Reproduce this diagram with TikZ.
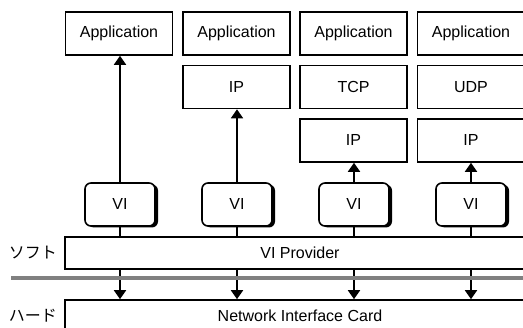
\documentclass[tikz,border=0pt]{standalone}
\usepackage{fontspec}
\setmainfont{Liberation Sans}
\newfontfamily\jpfont{Noto Sans CJK JP}
\usetikzlibrary{arrows.meta,shadows}

\begin{document}
\begin{tikzpicture}[x=1pt,y=-1pt,
    font=\fontsize{16}{19}\selectfont,
    layer/.style={draw,line width=1.6pt,minimum width=107pt,minimum height=43pt,inner sep=0pt},
    vibox/.style={draw,line width=1.6pt,fill=white,rounded corners=6pt,
        minimum width=70pt,minimum height=43pt,inner sep=0pt,
        drop shadow={shadow xshift=3pt,shadow yshift=-1.5pt,fill=black,opacity=1}},
    flow/.style={line width=1.8pt,-{Triangle[length=9pt,width=12pt]}}]
    \useasboundingbox (0,0) rectangle (523,328);

    % protocol stacks
    \node[layer] (app1) at (119,33.5)   {Application};
    \node[layer] (app2) at (236.5,33.5) {Application};
    \node[layer] (app3) at (353.5,33.5) {Application};
    \node[layer] (app4) at (471,33.5)   {Application};
    \node[layer] (ip2)  at (236.5,87)   {IP};
    \node[layer] (tcp3) at (353.5,87)   {TCP};
    \node[layer] (udp4) at (471,87)     {UDP};
    \node[layer] (ip3)  at (353.5,140.5) {IP};
    \node[layer] (ip4)  at (471,140.5)  {IP};

    % virtual interfaces
    \node[vibox] (vi1) at (120,204.5) {VI};
    \node[vibox] (vi2) at (237,204.5) {VI};
    \node[vibox] (vi3) at (354,204.5) {VI};
    \node[vibox] (vi4) at (471,204.5) {VI};

    \node[layer,minimum width=470pt,minimum height=32pt] (prov) at (300,253) {VI Provider};
    \node[layer,minimum width=470pt,minimum height=44pt] (nic)  at (300,322) {};
    \node at (300,316) {Network Interface Card};

    \node[font=\jpfont\fontsize{16}{19}\selectfont] (soft) at (33,253) {ソフト};
    \node[font=\jpfont\fontsize{16}{19}\selectfont] (hard) at (33,316) {ハード};

    \foreach \i/\t in {1/app1,2/ip2,3/ip3,4/ip4} {
        \draw[flow] (vi\i.north) -- (vi\i.north |- \t.south);
        \draw[line width=1.8pt] (vi\i.south) -- (vi\i.south |- prov.north);
        \draw[flow] (vi\i.south |- prov.south) -- (vi\i.south |- nic.north);
    }

    % software / hardware boundary
    \draw[black!50,line width=4pt] (11,278) -- (530,278);
\end{tikzpicture}
\end{document}
